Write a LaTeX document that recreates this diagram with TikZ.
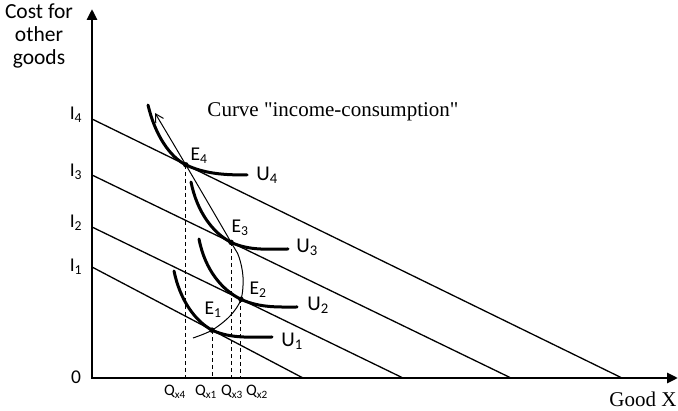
\documentclass[tikz,border=0pt]{standalone}
\usepackage{fontspec}
\setmainfont{Carlito}
\newfontfamily\timesfont{Liberation Serif}
\usetikzlibrary{arrows.meta,calc}

\begin{document}
\begin{tikzpicture}[
    x=1pt, y=-1pt,
    axis/.style={line width=2.8pt, {Triangle[length=11pt,width=10pt]}-{Triangle[length=11pt,width=10pt]}},
    budget/.style={line width=1.3pt},
    indiff/.style={line width=3pt, line cap=round},
    icc/.style={line width=1pt, -{Straight Barb[length=8pt,width=9pt]}},
    drop/.style={line width=1pt, dash pattern=on 4pt off 3pt},
    dot/.style={circle, fill, inner sep=0pt, minimum size=5.5pt},
    lbl/.style={inner sep=0pt, font=\fontsize{19.5}{22}\selectfont},
    ulbl/.style={inner sep=0pt, font=\fontsize{21}{24}\selectfont},
    qlbl/.style={inner sep=0pt, font=\fontsize{16}{18}\selectfont},
    serif/.style={inner sep=0pt, font=\timesfont\fontsize{21}{24}\selectfont}
  ]
    \useasboundingbox (0,0) rectangle (678,411);

    % axes
    \coordinate (O) at (92,378);
    \coordinate (ytop) at (92,9);
    \coordinate (xend) at (678,378);
    \draw[axis] (ytop) -- (O) -- (xend);
    \node[ulbl, align=center, font=\fontsize{21.5}{23}\selectfont] (ylab) at (39,36) {Cost for\\other\\goods};
    \node[serif] (xlab) at (643,399) {Good X};
    \node[lbl] (zero) at (76,377) {0};

    % budget lines
    \coordinate (i4) at (92,119);  \coordinate (b4) at (622,378);
    \coordinate (i3) at (92,175);  \coordinate (b3) at (511,378);
    \coordinate (i2) at (92,227);  \coordinate (b2) at (403,378);
    \coordinate (i1) at (92,267);  \coordinate (b1) at (303,378);
    \foreach \k in {1,...,4}
      \draw[budget] (i\k) -- (b\k);
    \node[lbl] (li4) at (76,115) {I\textsubscript{4}};
    \node[lbl] (li3) at (76,172) {I\textsubscript{3}};
    \node[lbl] (li2) at (76,223) {I\textsubscript{2}};
    \node[lbl] (li1) at (76,267) {I\textsubscript{1}};

    % equilibrium points
    \coordinate (E4) at ($(i4)!0.177!(b4)$);
    \coordinate (E3) at ($(i3)!0.332!(b3)$);
    \coordinate (E2) at ($(i2)!0.479!(b2)$);
    \coordinate (E1) at ($(i1)!0.569!(b1)$);

    % indifference curves
    \draw[indiff] (148,105) .. controls (155,135) and (170,157) .. (E4)
                  .. controls (205,174) and (225,175) .. (247,175);
    \draw[indiff] (191,182) .. controls (197,212) and (213,233) .. (E3)
                  .. controls (250,251) and (268,249) .. (288,249);
    \draw[indiff] (199,239) .. controls (205,270) and (222,290) .. (E2)
                  .. controls (260,308) and (278,307) .. (297,307);
    \draw[indiff] (174,271) .. controls (180,300) and (195,321) .. (E1)
                  .. controls (231,339) and (252,337) .. (272,337);
    \node[ulbl] (u4) at (267,175) {U\textsubscript{4}};
    \node[ulbl] (u3) at (307,247) {U\textsubscript{3}};
    \node[ulbl] (u2) at (318,305) {U\textsubscript{2}};
    \node[ulbl] (u1) at (292,341) {U\textsubscript{1}};

    % income-consumption curve
    \coordinate (icc0) at (193,338);
    \coordinate (icc9) at (155,113);
    \draw[icc] plot[smooth, tension=0.55] coordinates
      {(icc0) (E1) (230,316) (E2) (243,277) (239,257) (E3) (E4) (icc9)};
    \node[serif] (icclab) at (333,112) {Curve "income-consumption"};

    \foreach \k in {1,...,4}
      \node[dot] (d\k) at (E\k) {};
    \node[lbl] (e4) at (199,156) {E\textsubscript{4}};
    \node[lbl] (e3) at (240,228) {E\textsubscript{3}};
    \node[lbl] (e2) at (258,290) {E\textsubscript{2}};
    \node[lbl] (e1) at (213,310) {E\textsubscript{1}};

    % quantities
    \draw[drop] (E4) -- (E4 |- O);
    \draw[drop] (E1) -- (E1 |- O);
    \draw[drop] (E3) -- (E3 |- O);
    \draw[drop] (E2) -- (E2 |- O);
    \node[qlbl] (q4) at (175,392) {Q\textsubscript{x4}};
    \node[qlbl] (q1) at (206,392) {Q\textsubscript{x1}};
    \node[qlbl] (q3) at (232,392) {Q\textsubscript{x3}};
    \node[qlbl] (q2) at (257,392) {Q\textsubscript{x2}};
\end{tikzpicture}
\end{document}
